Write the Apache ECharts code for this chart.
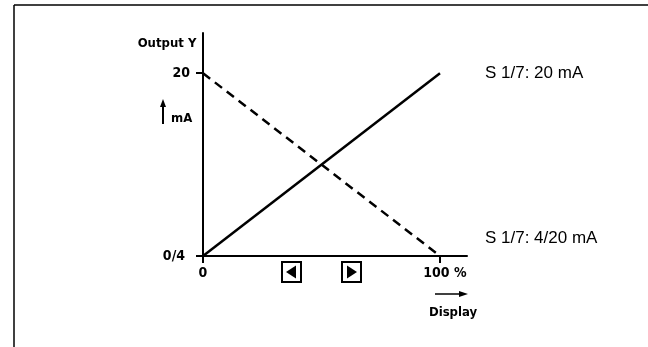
<!DOCTYPE html>
<html>
<head>
<meta charset="utf-8">
<script src="https://cdn.jsdelivr.net/npm/echarts@6/dist/echarts.min.js"></script>
<style>
html, body { margin: 0; padding: 0; background: #fff; }
#chart { width: 648px; height: 347px; }
</style>
</head>
<body>
<div id="chart"></div>
<script>
// display position in %, output in mA (0 stands for 0 or 4 mA)
const displayPct = [0, 100];
const outputRising = [0, 20];
const outputFalling = [20, 0];
const xTicks = [0, 100];
const yTicks = [0, 20];
const xTickText = { 0: '0', 100: '100 %' };
const yTickText = { 0: '0/4', 20: '20' };
const settingLabels = ['S 1/7: 20 mA', 'S 1/7: 4/20 mA'];

const narrow = '"Liberation Sans Narrow", "DejaVu Sans Condensed", sans-serif';
const plain = '"Liberation Sans", Arial, sans-serif';

const chart = echarts.init(document.getElementById('chart'));

function pairs(xs, ys) {
    return xs.map(function (x, i) { return [x, ys[i]]; });
}

const option = {
    animation: false,
    backgroundColor: '#fff',
    grid: { left: 203, top: 33, right: 181, bottom: 91 },
    xAxis: {
        type: 'value',
        min: 0,
        max: 111.4,
        interval: 100,
        axisLine: { lineStyle: { color: '#000', width: 2 } },
        axisTick: { show: true, length: 7, customValues: xTicks, lineStyle: { color: '#000', width: 2 } },
        axisLabel: {
            customValues: xTicks,
            margin: 10,
            color: '#000',
            fontFamily: narrow,
            fontWeight: 'bold',
            fontSize: 14,
            formatter: function (v) {
                return v === 100 ? '{p|' + xTickText[v] + '}' : xTickText[v];
            },
            rich: { p: { fontFamily: narrow, fontWeight: 'bold', fontSize: 14, padding: [0, 0, 0, 10] } }
        },
        splitLine: { show: false }
    },
    yAxis: {
        type: 'value',
        min: 0,
        max: 24.4,
        interval: 20,
        axisLine: { show: true, lineStyle: { color: '#000', width: 2 } },
        axisTick: { show: true, length: 7, customValues: yTicks, lineStyle: { color: '#000', width: 2 } },
        axisLabel: {
            customValues: yTicks,
            margin: 13,
            color: '#000',
            fontFamily: narrow,
            fontWeight: 'bold',
            fontSize: 14,
            formatter: function (v) {
                return v === 0 ? '{z|' + yTickText[v] + '}' : yTickText[v];
            },
            rich: { z: { fontFamily: narrow, fontWeight: 'bold', fontSize: 14, padding: [0, 5, 0, 0] } }
        },
        splitLine: { show: false }
    },
    series: [
        {
            name: settingLabels[0],
            type: 'line',
            data: pairs(displayPct, outputRising),
            symbol: 'none',
            lineStyle: { color: '#000', width: 2.5 },
            endLabel: {
                show: true,
                formatter: settingLabels[0],
                offset: [37, 0],
                color: '#000',
                fontFamily: plain,
                fontSize: 17
            }
        },
        {
            name: settingLabels[1],
            type: 'line',
            data: pairs(displayPct, outputFalling),
            symbol: 'none',
            lineStyle: { color: '#000', width: 2.5, type: [9, 6] },
            endLabel: {
                show: true,
                formatter: settingLabels[1],
                offset: [37, -18],
                color: '#000',
                fontFamily: plain,
                fontSize: 17
            }
        }
    ],
    graphic: [
        // frame
        { type: 'line', shape: { x1: 14, y1: 5, x2: 648, y2: 5 }, style: { stroke: '#000', lineWidth: 1.5 } },
        { type: 'line', shape: { x1: 14, y1: 5, x2: 14, y2: 347 }, style: { stroke: '#000', lineWidth: 1.5 } },
        // y axis title
        { type: 'text', x: 167, y: 44, style: { text: 'Output Y', fill: '#000', font: 'bold 13px ' + narrow, textAlign: 'center', textVerticalAlign: 'middle' } },
        { type: 'line', shape: { x1: 163, y1: 104, x2: 163, y2: 124 }, style: { stroke: '#000', lineWidth: 2 } },
        { type: 'polygon', shape: { points: [[160, 107], [166, 107], [163, 99]] }, style: { fill: '#000' } },
        { type: 'text', x: 171, y: 119, style: { text: 'mA', fill: '#000', font: 'bold 13px ' + narrow, textVerticalAlign: 'middle' } },
        // x axis title
        { type: 'line', shape: { x1: 435, y1: 294, x2: 461, y2: 294 }, style: { stroke: '#000', lineWidth: 1.5 } },
        { type: 'polygon', shape: { points: [[459, 291], [459, 297], [468, 294]] }, style: { fill: '#000' } },
        { type: 'text', x: 453, y: 313, style: { text: 'Display', fill: '#000', font: 'bold 13px ' + narrow, textAlign: 'center', textVerticalAlign: 'middle' } },
        // arrow keys
        { type: 'rect', shape: { x: 282, y: 262, width: 19, height: 20 }, style: { fill: '#fff', stroke: '#000', lineWidth: 2 } },
        { type: 'polygon', shape: { points: [[286, 272], [296, 265.5], [296, 278.5]] }, style: { fill: '#000' } },
        { type: 'rect', shape: { x: 342, y: 262, width: 19, height: 20 }, style: { fill: '#fff', stroke: '#000', lineWidth: 2 } },
        { type: 'polygon', shape: { points: [[357, 272], [347, 265.5], [347, 278.5]] }, style: { fill: '#000' } }
    ]
};

chart.setOption(option);
</script>
</body>
</html>
